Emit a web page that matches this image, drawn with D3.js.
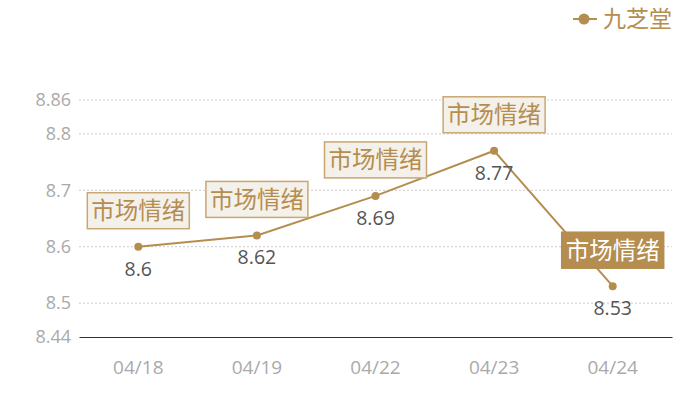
<!DOCTYPE html>
<html><head><meta charset="utf-8">
<script src="https://cdn.jsdelivr.net/npm/d3@7"></script>
<style>body{margin:0;background:#fff;}svg{display:block;font-family:"Noto Sans CJK SC","Open Sans",sans-serif;}</style>
</head><body><svg id="c" width="700" height="400"></svg>
<script>
const categories = ["04/18","04/19","04/22","04/23","04/24"];
const values = [8.6, 8.62, 8.69, 8.77, 8.53];
const seriesName = "九芝堂";
const markLabel = "市场情绪";
const highlighted = [false,false,false,false,true];
const yTicks = [8.44, 8.5, 8.6, 8.7, 8.8, 8.86];

const W=700,H=400, m={l:79,r:28,t:100,b:63};
const svg=d3.select("#c");
const x=d3.scaleBand().domain(categories).range([m.l,W-m.r]);
const y=d3.scaleLinear().domain([8.44,8.86]).range([H-m.b,m.t]);
const gold="#b58d4f";
const numFont="'Open Sans',sans-serif";

// grid
svg.append("g").selectAll("line").data(yTicks.filter(t=>t>8.44)).join("line")
 .attr("x1",m.l).attr("x2",W-m.r).attr("y1",d=>y(d)).attr("y2",d=>y(d))
 .attr("stroke","#ccc").attr("stroke-dasharray","2,2").attr("stroke-width",1);
// y axis labels
const ya=svg.append("g").attr("transform",`translate(${m.l},0)`)
 .call(d3.axisLeft(y).tickValues(yTicks).tickSize(0).tickPadding(8).tickFormat(d=>String(+d.toFixed(2))));
ya.select(".domain").remove();
ya.selectAll("text").attr("fill","#aaa").style("font-size","18px").style("font-family",numFont);
// x axis
const xa=svg.append("g").attr("transform",`translate(0,${y(8.44)})`)
 .call(d3.axisBottom(x).tickSize(0).tickPadding(24));
xa.select(".domain").attr("stroke","#333").attr("stroke-width",1.2);
xa.selectAll("text").attr("fill","#aaa").style("font-size","19px").style("font-family",numFont);

const cx=d=>x(d)+x.bandwidth()/2;
const pts=categories.map((c,i)=>({c,v:values[i],h:highlighted[i]}));
svg.append("path").datum(pts)
 .attr("d",d3.line().x(d=>cx(d.c)).y(d=>y(d.v)))
 .attr("fill","none").attr("stroke",gold).attr("stroke-width",2);
svg.append("g").selectAll("circle").data(pts).join("circle")
 .attr("cx",d=>cx(d.c)).attr("cy",d=>y(d.v)).attr("r",4).attr("fill",gold);
svg.append("g").selectAll("text").data(pts).join("text")
 .attr("x",d=>cx(d.c)).attr("y",d=>y(d.v)+29).attr("text-anchor","middle")
 .attr("fill","#555").style("font-size","19.5px").style("font-family",numFont)
 .text(d=>String(d.v));
// label boxes
const bw=102,bh=36;
const lb=svg.append("g").selectAll("g").data(pts).join("g")
 .attr("transform",d=>`translate(${cx(d.c)-bw/2},${y(d.v)-54})`);
lb.append("rect").attr("width",bw).attr("height",bh)
 .attr("fill",d=>d.h?gold:"#f4f0ea").attr("stroke",d=>d.h?gold:"#c9a772").attr("stroke-width",1.5);
lb.append("text").attr("x",bw/2).attr("y",bh/2+8.5).attr("text-anchor","middle")
 .attr("fill",d=>d.h?"#fff":gold).style("font-size","23.5px").text(markLabel);
// legend
const lg=svg.append("g").attr("transform","translate(573,19)");
lg.append("line").attr("x1",0).attr("x2",24).attr("stroke",gold).attr("stroke-width",2);
lg.append("circle").attr("cx",11).attr("r",5.5).attr("fill",gold);
lg.append("text").attr("x",30).attr("y",8).attr("fill",gold).style("font-size","23px").text(seriesName);
</script></body></html>
